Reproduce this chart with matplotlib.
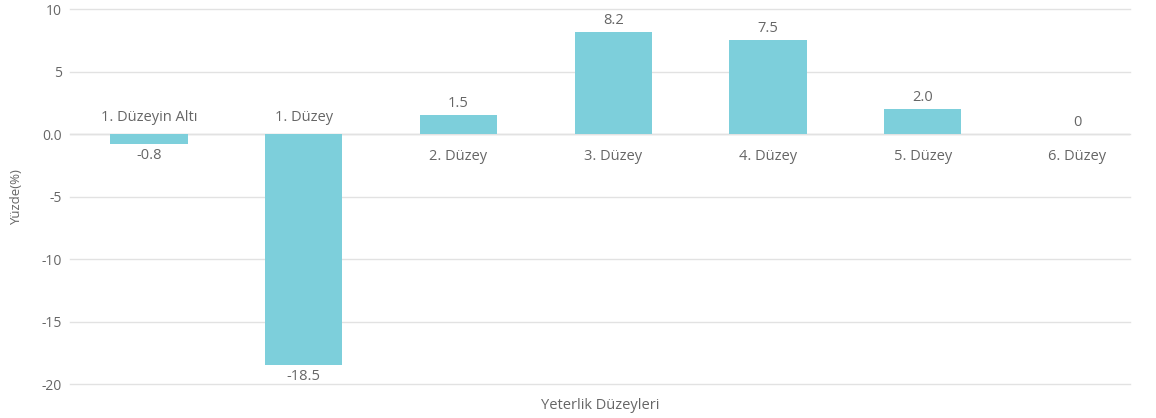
import matplotlib.pyplot as plt
import numpy as np

# data
categories = ['1. Düzeyin Altı', '1. Düzey', '2. Düzey', '3. Düzey',
              '4. Düzey', '5. Düzey', '6. Düzey']
values = [-0.8, -18.5, 1.5, 8.2, 7.5, 2.0, 0]
y_ticks = [10, 5, 0, -5, -10, -15, -20]
y_ticklabels = ['10', '5', '0.0', '-5', '-10', '-15', '-20']

bar_color = '#7dcfdb'
text_color = '#666666'
grid_color = '#e2e2e2'

plt.rcParams['font.family'] = ['Open Sans', 'DejaVu Sans']

fig = plt.figure(figsize=(11.56, 4.18), dpi=100)
ax = fig.add_axes([0.0606, 0.0813, 0.917, 0.8967])

x = np.arange(len(categories))
ax.bar(x, values, width=0.5, color=bar_color, zorder=2)

ax.set_ylim(-20, 10)
ax.set_xlim(-0.51, 6.34)
ax.set_yticks(y_ticks)
ax.set_yticklabels(y_ticklabels)
ax.set_xticks([])
ax.grid(axis='y', color=grid_color, lw=1.0, zorder=0)
for gl in ax.get_ygridlines():
    gl.set_clip_on(False)
ax.axhline(0, color='#d8d8d8', lw=1.0, zorder=1)
for s in ax.spines.values():
    s.set_visible(False)
ax.tick_params(axis='y', length=0, pad=6, labelsize=10, labelcolor=text_color)

# value labels and category labels
fs = 10.5
for xi, v, cat in zip(x, values, categories):
    txt = '0' if v == 0 else f'{v:.1f}'
    if v >= 0:
        ax.annotate(txt, (xi, v), xytext=(0, 3), textcoords='offset points',
                    ha='center', va='bottom', fontsize=fs, color=text_color)
        ax.annotate(cat, (xi, 0), xytext=(0, -16), textcoords='offset points',
                    ha='center', va='center', fontsize=fs, color=text_color)
    else:
        ax.annotate(txt, (xi, v), xytext=(0, -3), textcoords='offset points',
                    ha='center', va='top', fontsize=fs, color=text_color)
        ax.annotate(cat, (xi, 0), xytext=(0, 12), textcoords='offset points',
                    ha='center', va='center', fontsize=fs, color=text_color)

ax.set_ylabel('Yüzde(%)', fontsize=9.5, color=text_color, labelpad=13)
fig.text(0.519, 0.031, 'Yeterlik Düzeyleri', ha='center', va='center',
         fontsize=fs, color=text_color)

plt.savefig('out.png', dpi=100)
plt.close()
